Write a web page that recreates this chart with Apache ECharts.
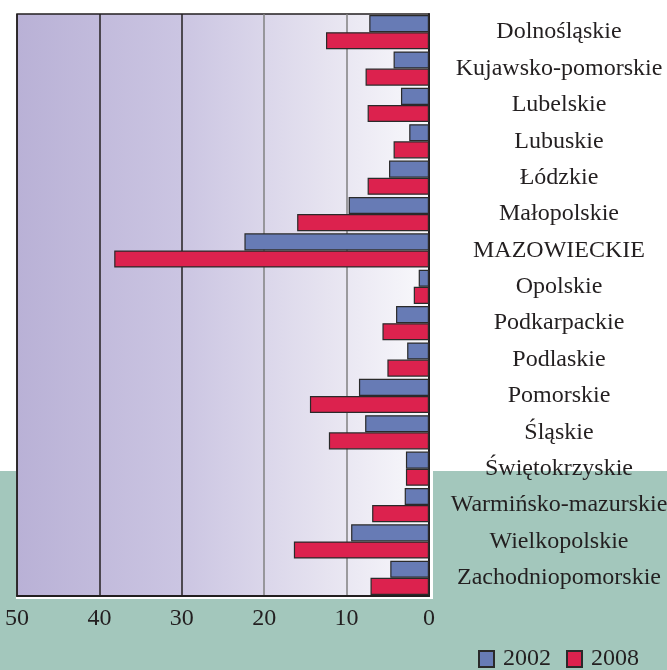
<!DOCTYPE html>
<html>
<head>
<meta charset="utf-8">
<script src="https://cdn.jsdelivr.net/npm/echarts@6/dist/echarts.min.js"></script>
<style>
html,body{margin:0;padding:0;background:#fff;}
#c{width:667px;height:670px;}
</style>
</head>
<body>
<div id="c"></div>
<script>
var categories = ['Dolnośląskie','Kujawsko-pomorskie','Lubelskie','Lubuskie','Łódzkie','Małopolskie','MAZOWIECKIE','Opolskie','Podkarpackie','Podlaskie','Pomorskie','Śląskie','Świętokrzyskie','Warmińsko-mazurskie','Wielkopolskie','Zachodniopomorskie'];
var values2002 = [7.25, 4.3, 3.4, 2.4, 4.85, 9.75, 22.4, 1.25, 4.0, 2.65, 8.5, 7.75, 2.8, 2.95, 9.45, 4.7];
var values2008 = [12.5, 7.7, 7.45, 4.3, 7.45, 16.0, 38.2, 1.85, 5.65, 5.05, 14.45, 12.15, 2.8, 6.9, 16.4, 7.1];
var xTicks = [0, 10, 20, 30, 40, 50];

var chart = echarts.init(document.getElementById('c'), null, {renderer: 'canvas'});
var serif = '"Liberation Serif", "DejaVu Serif", serif';
chart.setOption({
  animation: false,
  backgroundColor: '#ffffff',
  graphic: [
    {type: 'rect', z: -10, shape: {x: 0, y: 471, width: 667, height: 199}, style: {fill: '#a3c7bc'}},
    {type: 'rect', z: -9, shape: {x: 16, y: 0, width: 417, height: 599}, style: {fill: '#ffffff'}}
  ],
  legend: {
    data: ['2002', '2008'],
    left: 478, top: 647,
    itemWidth: 15, itemHeight: 16, itemGap: 15,
    icon: 'rect',
    textStyle: {fontFamily: serif, fontSize: 24, color: '#231f20', padding: [0, 0, 0, 4]},
    padding: 0
  },
  grid: {
    left: 17, right: 238, top: 14, bottom: 74,
    outerBoundsMode: 'none',
    containLabel: false,
    show: true,
    borderColor: '#231f20', borderWidth: 1.5,
    backgroundColor: new echarts.graphic.LinearGradient(0, 0, 1, 0, [
      {offset: 0, color: '#b9b1d6'},
      {offset: 0.4, color: '#cbc5e2'},
      {offset: 0.75, color: '#e6e3f0'},
      {offset: 1, color: '#f9f9fc'}
    ])
  },
  xAxis: {
    type: 'value', min: 0, max: 50, interval: 10, inverse: true,
    axisLine: {show: true, lineStyle: {color: '#231f20', width: 2}},
    axisTick: {show: false},
    axisLabel: {
      fontFamily: serif, fontSize: 24, color: '#231f20', margin: 11,
      formatter: function (v) { return xTicks.indexOf(v) >= 0 ? String(v) : ''; }
    },
    splitLine: {show: true, lineStyle: {color: ['#231f20', '#808080', '#808080', '#231f20', '#231f20', '#231f20'], width: 1.5}}
  },
  yAxis: {
    type: 'category', data: categories, inverse: true, position: 'right',
    axisLine: {show: true, lineStyle: {color: '#231f20', width: 2}},
    axisTick: {show: false},
    axisLabel: {fontFamily: serif, fontSize: 24, color: '#231f20', margin: 130, align: 'center', padding: [5, 0, 0, 0]}
  },
  series: [
    {
      name: '2002', type: 'bar', data: values2002,
      barGap: '0%', barCategoryGap: '6%',
      itemStyle: {color: '#677bb5', borderColor: '#2a2a2a', borderWidth: 1.2}
    },
    {
      name: '2008', type: 'bar', data: values2008,
      barGap: '0%', barCategoryGap: '6%',
      itemStyle: {color: '#dc224e', borderColor: '#2a2a2a', borderWidth: 1.2}
    }
  ]
});
</script>
</body>
</html>
